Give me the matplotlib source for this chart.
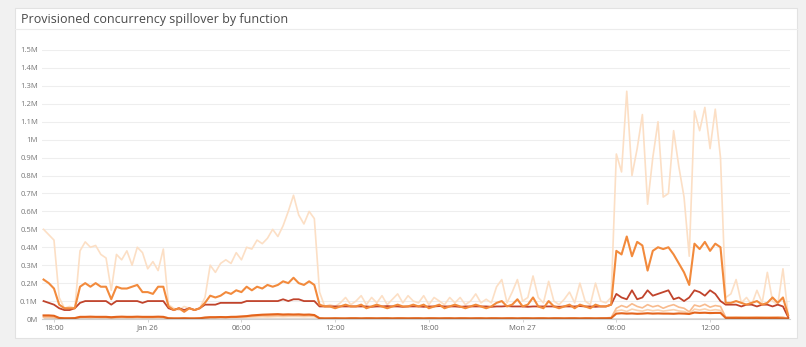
import numpy as np
import pandas as pd
import matplotlib
matplotlib.use("Agg")
import matplotlib.pyplot as plt
from matplotlib.patches import Rectangle
from matplotlib.lines import Line2D

plt.rcParams["font.family"] = ["Open Sans", "DejaVu Sans"]

# 20-minute samples, values in millions
times = pd.date_range("2020-01-25 17:20", periods=144, freq="20min")

light = [
    0.50, 0.47, 0.44, 0.12, 0.06, 0.07, 0.06, 0.38, 0.43, 0.40, 0.41, 0.36,
    0.34, 0.16, 0.36, 0.33, 0.38, 0.30, 0.40, 0.37, 0.28, 0.32, 0.27, 0.39,
    0.08, 0.06, 0.05, 0.07, 0.06, 0.05, 0.06, 0.12, 0.30, 0.26, 0.31, 0.33,
    0.31, 0.37, 0.33, 0.40, 0.39, 0.44, 0.42, 0.45, 0.50, 0.46, 0.52, 0.60,
    0.69, 0.58, 0.53, 0.60, 0.56, 0.15, 0.07, 0.08, 0.07, 0.09, 0.12, 0.08,
    0.10, 0.13, 0.08, 0.12, 0.09, 0.13, 0.08, 0.11, 0.14, 0.09, 0.13, 0.10,
    0.09, 0.13, 0.08, 0.12, 0.10, 0.08, 0.12, 0.09, 0.12, 0.08, 0.10, 0.14,
    0.09, 0.11, 0.09, 0.18, 0.22, 0.09, 0.15, 0.22, 0.10, 0.12, 0.24, 0.12,
    0.09, 0.21, 0.10, 0.08, 0.11, 0.15, 0.09, 0.20, 0.10, 0.08, 0.20, 0.10,
    0.09, 0.12, 0.92, 0.82, 1.27, 0.80, 0.95, 1.14, 0.64, 0.90, 1.10, 0.68,
    0.70, 1.05, 0.85, 0.68, 0.35, 1.16, 1.05, 1.18, 0.95, 1.17, 0.90, 0.12,
    0.14, 0.22, 0.09, 0.12, 0.08, 0.16, 0.09, 0.26, 0.10, 0.08, 0.28, 0.02,
]

mid = [
    0.22, 0.20, 0.17, 0.08, 0.06, 0.06, 0.06, 0.18, 0.20, 0.18, 0.20, 0.18,
    0.18, 0.11, 0.18, 0.17, 0.17, 0.18, 0.19, 0.15, 0.15, 0.14, 0.18, 0.18,
    0.07, 0.05, 0.06, 0.04, 0.06, 0.05, 0.06, 0.09, 0.13, 0.12, 0.13, 0.15,
    0.14, 0.16, 0.15, 0.18, 0.16, 0.18, 0.17, 0.19, 0.18, 0.19, 0.21, 0.20,
    0.23, 0.20, 0.19, 0.21, 0.19, 0.08, 0.07, 0.07, 0.06, 0.07, 0.08, 0.07,
    0.07, 0.08, 0.06, 0.07, 0.08, 0.07, 0.06, 0.07, 0.08, 0.07, 0.07, 0.08,
    0.07, 0.08, 0.06, 0.07, 0.08, 0.06, 0.07, 0.08, 0.07, 0.06, 0.07, 0.08,
    0.07, 0.06, 0.07, 0.09, 0.10, 0.07, 0.08, 0.11, 0.07, 0.08, 0.12, 0.07,
    0.06, 0.10, 0.07, 0.06, 0.07, 0.08, 0.06, 0.08, 0.07, 0.06, 0.08, 0.07,
    0.07, 0.08, 0.38, 0.36, 0.46, 0.35, 0.43, 0.41, 0.27, 0.38, 0.40, 0.39,
    0.40, 0.36, 0.31, 0.26, 0.19, 0.42, 0.39, 0.43, 0.38, 0.42, 0.40, 0.09,
    0.09, 0.10, 0.09, 0.08, 0.09, 0.10, 0.08, 0.09, 0.12, 0.09, 0.12, 0.02,
]

dark = [
    0.10, 0.09, 0.08, 0.06, 0.05, 0.05, 0.06, 0.09, 0.10, 0.10, 0.10, 0.10,
    0.10, 0.08, 0.10, 0.10, 0.10, 0.10, 0.10, 0.09, 0.10, 0.10, 0.10, 0.10,
    0.06, 0.05, 0.06, 0.05, 0.06, 0.05, 0.06, 0.08, 0.08, 0.08, 0.09, 0.09,
    0.09, 0.09, 0.09, 0.10, 0.10, 0.10, 0.10, 0.10, 0.10, 0.10, 0.11, 0.10,
    0.11, 0.11, 0.10, 0.10, 0.10, 0.07, 0.07, 0.07, 0.07, 0.07, 0.07, 0.07,
    0.07, 0.07, 0.07, 0.068, 0.07, 0.07, 0.072, 0.07, 0.07, 0.068, 0.07, 0.07,
    0.07, 0.068, 0.07, 0.07, 0.072, 0.07, 0.07, 0.07, 0.068, 0.07, 0.07, 0.07,
    0.07, 0.07, 0.068, 0.07, 0.07, 0.072, 0.07, 0.07, 0.07, 0.068, 0.07, 0.07,
    0.07, 0.07, 0.07, 0.068, 0.07, 0.07, 0.07, 0.072, 0.07, 0.07, 0.068, 0.07,
    0.07, 0.08, 0.14, 0.12, 0.11, 0.16, 0.11, 0.12, 0.16, 0.13, 0.14, 0.15,
    0.16, 0.11, 0.12, 0.10, 0.12, 0.16, 0.15, 0.13, 0.16, 0.14, 0.10, 0.08,
    0.08, 0.08, 0.07, 0.08, 0.08, 0.07, 0.08, 0.08, 0.07, 0.08, 0.07, 0.01,
]

low_orange = [
    0.020, 0.020, 0.018, 0.006, 0.004, 0.004, 0.005, 0.012, 0.012, 0.013, 0.012, 0.012,
    0.012, 0.010, 0.012, 0.013, 0.012, 0.012, 0.013, 0.012, 0.012, 0.012, 0.013, 0.012,
    0.004, 0.003, 0.003, 0.004, 0.003, 0.003, 0.004, 0.008, 0.010, 0.010, 0.011, 0.010,
    0.012, 0.012, 0.014, 0.016, 0.020, 0.022, 0.024, 0.025, 0.026, 0.027, 0.025, 0.026,
    0.025, 0.026, 0.024, 0.025, 0.022, 0.004, 0.003, 0.003, 0.004, 0.003, 0.003, 0.004,
    0.004, 0.003, 0.004, 0.004, 0.003, 0.004, 0.004, 0.003, 0.004, 0.004, 0.003, 0.004,
    0.004, 0.003, 0.004, 0.004, 0.003, 0.004, 0.004, 0.003, 0.004, 0.004, 0.003, 0.004,
    0.004, 0.003, 0.004, 0.004, 0.003, 0.004, 0.004, 0.003, 0.004, 0.004, 0.003, 0.004,
    0.004, 0.003, 0.004, 0.004, 0.003, 0.004, 0.004, 0.003, 0.004, 0.004, 0.003, 0.004,
    0.004, 0.005, 0.030, 0.032, 0.030, 0.031, 0.029, 0.030, 0.032, 0.030, 0.031, 0.030,
    0.030, 0.029, 0.031, 0.030, 0.028, 0.036, 0.034, 0.035, 0.033, 0.034, 0.034, 0.006,
    0.006, 0.005, 0.006, 0.005, 0.006, 0.005, 0.006, 0.005, 0.006, 0.005, 0.004, 0.002,
]

low_peach = [
    0.012, 0.012, 0.010, 0.006, 0.005, 0.005, 0.006, 0.010, 0.012, 0.010, 0.011, 0.010,
    0.010, 0.008, 0.010, 0.011, 0.010, 0.010, 0.011, 0.010, 0.010, 0.010, 0.011, 0.010,
    0.006, 0.005, 0.005, 0.006, 0.005, 0.005, 0.006, 0.008, 0.010, 0.010, 0.012, 0.012,
    0.012, 0.013, 0.014, 0.015, 0.016, 0.018, 0.020, 0.019, 0.020, 0.021, 0.020, 0.021,
    0.022, 0.021, 0.020, 0.021, 0.019, 0.006, 0.005, 0.006, 0.005, 0.006, 0.005, 0.006,
    0.006, 0.005, 0.006, 0.005, 0.006, 0.005, 0.006, 0.005, 0.006, 0.005, 0.006, 0.005,
    0.006, 0.005, 0.006, 0.005, 0.006, 0.005, 0.006, 0.005, 0.006, 0.005, 0.006, 0.005,
    0.006, 0.005, 0.006, 0.005, 0.006, 0.005, 0.006, 0.005, 0.006, 0.005, 0.006, 0.005,
    0.006, 0.005, 0.006, 0.005, 0.006, 0.005, 0.006, 0.005, 0.006, 0.005, 0.006, 0.005,
    0.006, 0.008, 0.060, 0.075, 0.065, 0.085, 0.070, 0.062, 0.080, 0.068, 0.075, 0.060,
    0.072, 0.080, 0.066, 0.060, 0.040, 0.078, 0.070, 0.082, 0.066, 0.075, 0.070, 0.010,
    0.010, 0.012, 0.010, 0.011, 0.010, 0.012, 0.010, 0.011, 0.010, 0.012, 0.010, 0.004,
]

low_tan = [
    0.008, 0.008, 0.007, 0.004, 0.003, 0.003, 0.004, 0.007, 0.008, 0.007, 0.008, 0.007,
    0.007, 0.006, 0.007, 0.008, 0.007, 0.007, 0.008, 0.007, 0.007, 0.007, 0.008, 0.007,
    0.004, 0.003, 0.003, 0.004, 0.003, 0.003, 0.004, 0.005, 0.007, 0.007, 0.008, 0.008,
    0.008, 0.009, 0.009, 0.010, 0.011, 0.012, 0.013, 0.012, 0.013, 0.014, 0.013, 0.014,
    0.014, 0.014, 0.013, 0.014, 0.013, 0.004, 0.003, 0.004, 0.003, 0.004, 0.003, 0.004,
    0.004, 0.003, 0.004, 0.003, 0.004, 0.003, 0.004, 0.003, 0.004, 0.003, 0.004, 0.003,
    0.004, 0.003, 0.004, 0.003, 0.004, 0.003, 0.004, 0.003, 0.004, 0.003, 0.004, 0.003,
    0.004, 0.003, 0.004, 0.003, 0.004, 0.003, 0.004, 0.003, 0.004, 0.003, 0.004, 0.003,
    0.004, 0.003, 0.004, 0.003, 0.004, 0.003, 0.004, 0.003, 0.004, 0.003, 0.004, 0.003,
    0.004, 0.006, 0.045, 0.050, 0.042, 0.055, 0.048, 0.044, 0.052, 0.046, 0.050, 0.044,
    0.048, 0.052, 0.045, 0.042, 0.030, 0.055, 0.050, 0.056, 0.047, 0.052, 0.048, 0.008,
    0.008, 0.009, 0.008, 0.009, 0.008, 0.009, 0.008, 0.009, 0.008, 0.009, 0.008, 0.003,
]

tick_times = pd.date_range("2020-01-25 18:00", periods=8, freq="6h")
tick_labels = ["18:00", "Jan 26", "06:00", "12:00", "18:00", "Mon 27", "06:00", "12:00"]
y_ticks = [i / 10 for i in range(16)]
y_labels = ["0M", "0.1M", "0.2M", "0.3M", "0.4M", "0.5M", "0.6M", "0.7M",
            "0.8M", "0.9M", "1M", "1.1M", "1.2M", "1.3M", "1.4M", "1.5M"]

W, H = 806, 347
fig = plt.figure(figsize=(W / 100, H / 100), dpi=100)
fig.patch.set_facecolor("#f1f1f1")

# white card with title strip
fig.add_artist(Rectangle((15 / W, 1 - 338 / H), 782 / W, 330 / H, transform=fig.transFigure,
                         facecolor="white", edgecolor="#e2e2e2", linewidth=0.8, zorder=0))
fig.add_artist(Line2D([15 / W, 797 / W], [1 - 29 / H, 1 - 29 / H], transform=fig.transFigure,
                      color="#ececec", linewidth=0.8))
fig.text(21 / W, 1 - 19 / H, "Provisioned concurrency spillover by function",
         fontsize=9.0, color="#4a4a4a", va="center", ha="left")

ax = fig.add_axes([42 / W, 1 - 319 / H, 748 / W, 269 / H])
ax.set_facecolor("none")

ax.plot(times, light, color="#fcdfc5", linewidth=1.2, zorder=2)
ax.plot(times, low_tan, color="#f9d2b0", linewidth=1.2, zorder=3)
ax.plot(times, low_peach, color="#f8bb8e", linewidth=1.2, zorder=3)
ax.plot(times, dark, color="#c0432b", linewidth=1.3, zorder=4)
ax.plot(times, mid, color="#f28a3c", linewidth=1.5, zorder=5)
ax.plot(times, low_orange, color="#e4641c", linewidth=1.5, zorder=6)
ax.plot(times, np.zeros(len(times)), color="#6e5a52", linewidth=1.0, zorder=7)

ax.set_xlim(pd.Timestamp("2020-01-25 17:14"), pd.Timestamp("2020-01-27 17:07"))
ax.set_ylim(0, 1.5)
ax.set_yticks(y_ticks)
ax.set_yticklabels(y_labels)
ax.set_xticks(tick_times)
ax.set_xticklabels(tick_labels)

ax.grid(axis="y", color="#eeeeee", linewidth=0.8)
ax.set_axisbelow(True)
for side in ["top", "right", "left"]:
    ax.spines[side].set_visible(False)
ax.spines["bottom"].set_color("#d0d0d0")
ax.spines["bottom"].set_linewidth(0.8)
ax.tick_params(axis="y", length=0, pad=3, labelsize=5.5, labelcolor="#777777")
ax.tick_params(axis="x", length=2.5, width=0.6, color="#cccccc", pad=1.5,
               labelsize=5.5, labelcolor="#666666")

fig.savefig("out.png", dpi=100, facecolor=fig.get_facecolor())
